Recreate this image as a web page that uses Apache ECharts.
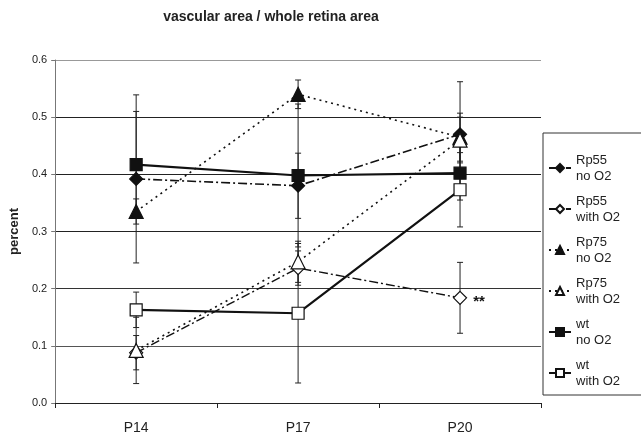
<!DOCTYPE html>
<html><head><meta charset="utf-8">
<script src="https://cdn.jsdelivr.net/npm/echarts@6/dist/echarts.min.js"></script>
<style>html,body{margin:0;padding:0;background:#fff}#c{width:641px;height:439px}</style>
</head><body><div id="c"></div>
<script>
const categories = ['P14', 'P17', 'P20'];
const yTicks = [0, 0.1, 0.2, 0.3, 0.4, 0.5, 0.6];
const seriesNames = ['Rp55 no O2', 'Rp55 with O2', 'Rp75 no O2', 'Rp75 with O2', 'wt no O2', 'wt with O2'];
const rp55No = [0.392, 0.380, 0.470];
const rp55NoErr = [0.147, 0.057, 0.092];
const rp55With = [0.088, 0.236, 0.184];
const rp55WithErr = [0.030, 0.030, 0.062];
const rp75No = [0.335, 0.540, 0.465];
const rp75NoErr = [0.022, 0.025, 0.042];
const rp75With = [0.092, 0.247, 0.460];
const rp75WithErr = [0.058, 0.036, 0.040];
const wtNo = [0.417, 0.398, 0.402];
const wtNoErr = [0.093, 0.125, 0.047];
const wtWith = [0.163, 0.157, 0.373];
const wtWithErr = [0.031, 0.122, 0.065];
const annotation = {series: 1, index: 2, text: '**'};

const values = [rp55No, rp55With, rp75No, rp75With, wtNo, wtWith];
const errs = [rp55NoErr, rp55WithErr, rp75NoErr, rp75WithErr, wtNoErr, wtWithErr];
const K = '#111';
const styles = [
  {symbol: 'diamond', size: 13, fill: K, line: {type: [9, 3, 2, 3], width: 1.6}},
  {symbol: 'diamond', size: 13, fill: '#fff', line: {type: [9, 3, 2, 3], width: 1.4}},
  {symbol: 'triangle', size: 14, fill: K, line: {type: [2, 4], width: 1.6}},
  {symbol: 'triangle', size: 14, fill: '#fff', line: {type: [2, 4], width: 1.6}},
  {symbol: 'rect', size: 12, fill: K, line: {type: 'solid', width: 2.2}},
  {symbol: 'rect', size: 12, fill: '#fff', line: {type: 'solid', width: 2.2}}
];

const errData = [];
values.forEach((arr, s) => arr.forEach((v, i) => errData.push([i, v - errs[s][i], v + errs[s][i]])));

const series = [{
  type: 'custom', name: 'err', z: 1, silent: true,
  renderItem: function (params, api) {
    const x = api.value(0);
    const lo = api.coord([x, api.value(1)]);
    const hi = api.coord([x, api.value(2)]);
    const w = 3;
    const st = {stroke: '#222', lineWidth: 1};
    return {type: 'group', children: [
      {type: 'line', shape: {x1: lo[0], y1: lo[1], x2: hi[0], y2: hi[1]}, style: st},
      {type: 'line', shape: {x1: lo[0] - w, y1: lo[1], x2: lo[0] + w, y2: lo[1]}, style: st},
      {type: 'line', shape: {x1: hi[0] - w, y1: hi[1], x2: hi[0] + w, y2: hi[1]}, style: st}
    ]};
  },
  data: errData
}];
values.forEach((arr, s) => {
  const st = styles[s];
  series.push({
    type: 'line', name: seriesNames[s], z: 3,
    symbol: st.symbol, symbolSize: st.size, showAllSymbol: true,
    lineStyle: {color: K, width: st.line.width, type: st.line.type},
    itemStyle: {color: st.fill, borderColor: K, borderWidth: 1.2},
    data: arr.map((v, i) => {
      if (s === annotation.series && i === annotation.index) {
        return {value: v, label: {show: true, position: 'right', distance: 6, formatter: annotation.text,
          fontSize: 15, fontWeight: 'bold', color: K, fontFamily: 'Liberation Sans', offset: [0, 4]}};
      }
      return v;
    })
  });
});

const chart = echarts.init(document.getElementById('c'));
chart.setOption({
  animation: false,
  backgroundColor: '#fff',
  textStyle: {fontFamily: 'Liberation Sans'},
  title: {text: 'vascular area / whole retina area', left: 266, top: 5, textAlign: 'center',
    textStyle: {fontSize: 14, fontWeight: 'bold', color: '#222', fontFamily: 'Liberation Sans'}},
  grid: {left: 52, right: 100, top: 60, bottom: 36},
  legend: {
    orient: 'vertical', left: 543, top: 133,
    data: seriesNames,
    formatter: n => n.replace(/ (no|with)/, '\n$1'),
    itemWidth: 22, itemHeight: 10, itemGap: 9,
    padding: [19, 40, 6, 5],
    borderColor: '#333', borderWidth: 1,
    textStyle: {fontSize: 13, lineHeight: 16, color: '#222', fontFamily: 'Liberation Sans'}
  },
  xAxis: {
    type: 'category', data: categories, boundaryGap: true,
    axisLine: {lineStyle: {color: '#222', width: 1}},
    axisTick: {show: true, length: 5, lineStyle: {color: '#222'}},
    axisLabel: {fontSize: 14, color: '#222', margin: 18}
  },
  yAxis: {
    type: 'value', min: yTicks[0], max: yTicks[yTicks.length - 1], interval: 0.1,
    name: 'percent', nameLocation: 'middle', nameGap: 31,
    nameTextStyle: {fontSize: 13, fontWeight: 'bold', color: '#222'},
    axisLine: {show: true, lineStyle: {color: '#777'}},
    axisTick: {show: true, length: 4, lineStyle: {color: '#777'}},
    axisLabel: {fontSize: 11, color: '#222', formatter: v => v.toFixed(1), margin: 8},
    splitLine: {lineStyle: {color: ['#222', '#555', '#333', '#222', '#222', '#222', '#999'], width: 1}}
  },
  series: series
});
</script></body></html>
